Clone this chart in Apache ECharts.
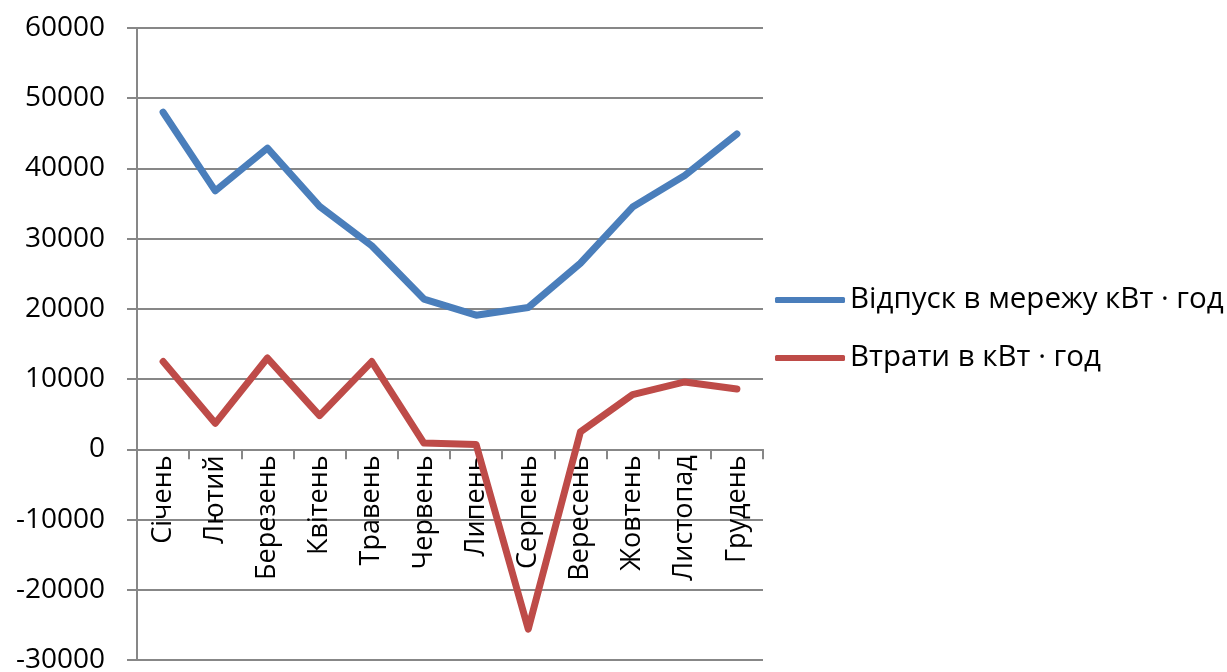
<!DOCTYPE html>
<html>
<head>
<meta charset="utf-8">
<script src="https://cdn.jsdelivr.net/npm/echarts@6/dist/echarts.min.js"></script>
<style>
  html, body { margin: 0; padding: 0; background: #fff; }
  #chart { width: 1227px; height: 672px; }
</style>
</head>
<body>
<div id="chart"></div>
<script>
// Місяці року
const months = ['Січень', 'Лютий', 'Березень', 'Квітень', 'Травень', 'Червень',
                'Липень', 'Серпень', 'Вересень', 'Жовтень', 'Листопад', 'Грудень'];

// Відпуск електроенергії в мережу, кВт·год
const supplyName = 'Відпуск в мережу кВт · год';
const supply = [48000, 36800, 42900, 34600, 29000, 21400, 19100, 20200, 26500, 34500, 39000, 44900];

// Втрати електроенергії, кВт·год
const lossName = 'Втрати в кВт · год';
const losses = [12500, 3700, 13000, 4800, 12500, 900, 700, -25600, 2500, 7800, 9600, 8600];

// Шкала значень
const yMin = -30000;
const yMax = 60000;
const yStep = 10000;

const FONT = '"Open Sans", "Noto Sans", sans-serif';
const GRAY = '#878787';
const BLUE = '#4A7EBB';
const RED = '#BE4B48';

const GRID_TOP = 28;
const GRID_BOTTOM = 12;
const CHART_H = 672;

// Відстань від нижнього краю сітки до лінії нуля — підписи місяців стоять під віссю на нулі
const plotH = CHART_H - GRID_TOP - GRID_BOTTOM;
const zeroFromBottom = plotH * (0 - yMin) / (yMax - yMin);

const chart = echarts.init(document.getElementById('chart'), null, { renderer: 'canvas' });

chart.setOption({
  animation: false,
  backgroundColor: '#ffffff',
  textStyle: { fontFamily: FONT },
  grid: { left: 137, right: 464, top: GRID_TOP, bottom: GRID_BOTTOM, containLabel: false, outerBoundsMode: 'none' },
  legend: {
    orient: 'vertical',
    left: 770,
    top: 280,
    itemWidth: 70,
    itemHeight: 6,
    itemGap: 28,
    icon: 'roundRect',
    textStyle: { fontFamily: FONT, fontSize: 29.5, color: '#000', padding: [0, 0, 0, 0] },
    data: [supplyName, lossName]
  },
  xAxis: [
    {
      type: 'category',
      data: months,
      boundaryGap: true,
      axisLine: { show: true, onZero: true, lineStyle: { color: GRAY, width: 2 } },
      axisTick: { show: true, length: 10, interval: 0, alignWithLabel: false, lineStyle: { color: GRAY, width: 2 } },
      axisLabel: { show: false },
      splitLine: { show: false }
    },
    {
      type: 'category',
      data: months,
      boundaryGap: true,
      position: 'bottom',
      offset: -zeroFromBottom,
      axisLine: { show: false, onZero: false },
      axisTick: { show: false },
      axisLabel: {
        interval: 0,
        rotate: 90,
        margin: 6,
        fontFamily: FONT,
        fontSize: 27,
        color: '#000',
        hideOverlap: false
      },
      splitLine: { show: false }
    }
  ],
  yAxis: {
    type: 'value',
    min: yMin,
    max: yMax,
    interval: yStep,
    axisLine: { show: true, lineStyle: { color: GRAY, width: 2 } },
    axisTick: { show: true, length: 10, lineStyle: { color: GRAY, width: 2 } },
    axisLabel: {
      margin: 32,
      fontFamily: FONT,
      fontSize: 28,
      color: '#000',
      formatter: (v) => String(v)
    },
    splitLine: { show: true, lineStyle: { color: GRAY, width: 2 } }
  },
  series: [
    {
      name: supplyName,
      type: 'line',
      xAxisIndex: 0,
      data: supply,
      symbol: 'none',
      color: BLUE,
      lineStyle: { color: BLUE, width: 7, cap: 'round', join: 'round' }
    },
    {
      name: lossName,
      type: 'line',
      xAxisIndex: 0,
      data: losses,
      symbol: 'none',
      color: RED,
      lineStyle: { color: RED, width: 7, cap: 'round', join: 'round' }
    }
  ]
});
</script>
</body>
</html>
